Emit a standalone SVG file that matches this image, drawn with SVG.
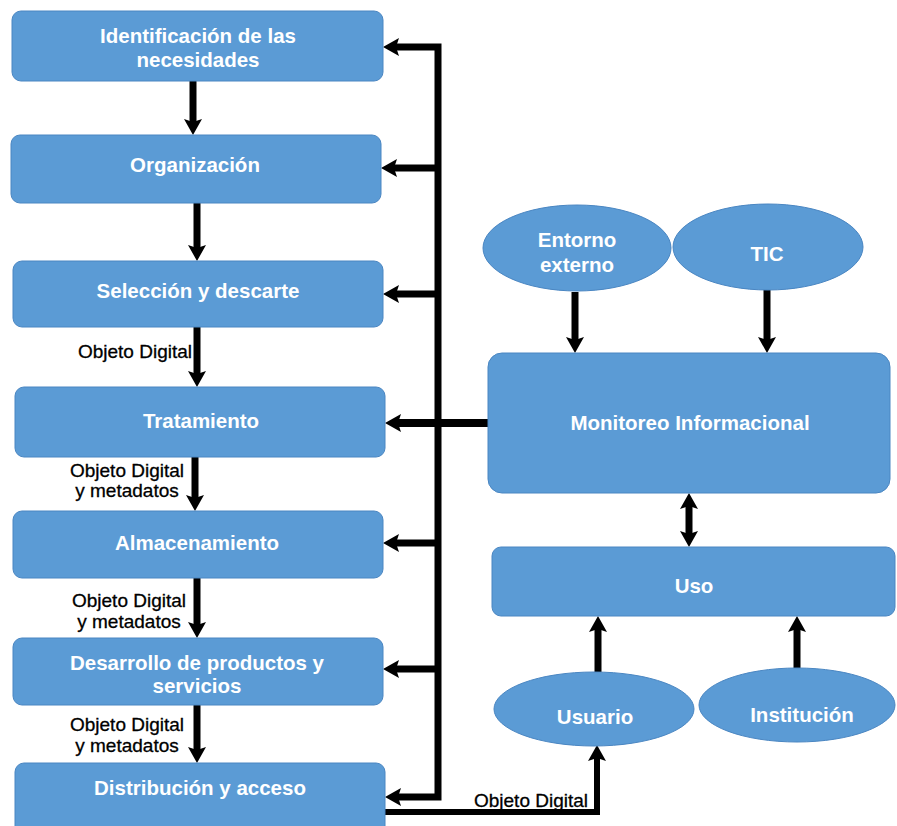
<svg xmlns="http://www.w3.org/2000/svg" width="897" height="826" viewBox="0 0 897 826">
<style>
.box{fill:#5B9BD5;stroke:#4A86C2;stroke-width:1}
.t{font-family:"Liberation Sans",Arial,sans-serif;font-weight:bold;font-size:20.5px;fill:#fff;text-anchor:middle}
.lbl{font-family:"Liberation Sans",Arial,sans-serif;font-size:19px;fill:#000;text-anchor:middle;stroke:#000;stroke-width:0.3}
.c{fill:none;stroke:#000;stroke-width:7}
</style>
<defs>
<marker id="ah" markerUnits="userSpaceOnUse" markerWidth="16" markerHeight="18" viewBox="0 0 16 18" refX="6" refY="9" orient="auto-start-reverse">
<path d="M0,0 L16,9 L0,18 L3,9 z" fill="#000"/>
</marker>
</defs>
<rect width="897" height="826" fill="#fff"/>
<g id="connectors">
<line class="c" x1="193" y1="81" x2="193" y2="125" marker-end="url(#ah)"/>
<line class="c" x1="197" y1="203" x2="197" y2="251" marker-end="url(#ah)"/>
<line class="c" x1="197" y1="327" x2="197" y2="377" marker-end="url(#ah)"/>
<line class="c" x1="195" y1="457" x2="195" y2="501" marker-end="url(#ah)"/>
<line class="c" x1="197" y1="578" x2="197" y2="628" marker-end="url(#ah)"/>
<line class="c" x1="197" y1="705" x2="197" y2="753" marker-end="url(#ah)"/>
<path class="c" d="M393,47 H438 V797 H395" marker-start="url(#ah)" marker-end="url(#ah)"/>
<line class="c" x1="438" y1="168" x2="391" y2="168" marker-end="url(#ah)"/>
<line class="c" x1="438" y1="294" x2="393" y2="294" marker-end="url(#ah)"/>
<line class="c" x1="488" y1="423" x2="395" y2="423" style="stroke-width:8" marker-end="url(#ah)"/>
<line class="c" x1="438" y1="543" x2="393" y2="543" marker-end="url(#ah)"/>
<line class="c" x1="438" y1="669" x2="393" y2="669" marker-end="url(#ah)"/>
<path class="c" d="M383,812 H597 V755" style="stroke-width:6" marker-end="url(#ah)"/>
<line class="c" x1="575" y1="292" x2="575" y2="343" marker-end="url(#ah)"/>
<line class="c" x1="767" y1="290" x2="767" y2="343" marker-end="url(#ah)"/>
<line class="c" x1="689" y1="503" x2="689" y2="537" marker-start="url(#ah)" marker-end="url(#ah)"/>
<line class="c" x1="598" y1="672" x2="598" y2="626" marker-end="url(#ah)"/>
<line class="c" x1="797" y1="668" x2="797" y2="626" marker-end="url(#ah)"/>
<text class="lbl" style="text-anchor:end" x="192" y="358">Objeto Digital</text>
<text class="lbl" x="127" y="477">Objeto Digital</text>
<text class="lbl" x="127" y="497">y metadatos</text>
<text class="lbl" x="129" y="607">Objeto Digital</text>
<text class="lbl" x="129" y="628">y metadatos</text>
<text class="lbl" x="127" y="731">Objeto Digital</text>
<text class="lbl" x="127" y="752">y metadatos</text>
<text class="lbl" x="531" y="807">Objeto Digital</text>
</g>
<g id="identificacion">
<rect class="box" x="12" y="11" width="371" height="70" rx="9"/>
<text class="t" x="198" y="43">Identificación de las</text>
<text class="t" x="198" y="67">necesidades</text>
</g>
<g id="organizacion">
<rect class="box" x="11" y="135" width="370" height="68" rx="9"/>
<text class="t" x="195" y="172">Organización</text>
</g>
<g id="seleccion">
<rect class="box" x="13" y="261" width="370" height="66" rx="9"/>
<text class="t" x="198" y="298">Selección y descarte</text>
</g>
<g id="tratamiento">
<rect class="box" x="15" y="387" width="370" height="70" rx="9"/>
<text class="t" x="201" y="428">Tratamiento</text>
</g>
<g id="almacenamiento">
<rect class="box" x="13" y="511" width="370" height="67" rx="9"/>
<text class="t" x="197" y="550">Almacenamiento</text>
</g>
<g id="desarrollo">
<rect class="box" x="13" y="638" width="370" height="67" rx="9"/>
<text class="t" x="197" y="670">Desarrollo de productos y</text>
<text class="t" x="197" y="693">servicios</text>
</g>
<g id="distribucion">
<rect class="box" x="15" y="763" width="370" height="75" rx="9"/>
<text class="t" x="200" y="795">Distribución y acceso</text>
</g>
<g id="entorno">
<ellipse class="box" cx="577" cy="248" rx="94" ry="43"/>
<text class="t" x="577" y="247">Entorno</text>
<text class="t" x="577" y="272">externo</text>
</g>
<g id="tic">
<ellipse class="box" cx="768" cy="247" rx="95" ry="43"/>
<text class="t" x="767" y="261">TIC</text>
</g>
<g id="monitoreo">
<rect class="box" x="488" y="353" width="402" height="140" rx="14"/>
<text class="t" x="690" y="430">Monitoreo Informacional</text>
</g>
<g id="uso">
<rect class="box" x="492" y="547" width="403" height="69" rx="9"/>
<text class="t" x="694" y="593">Uso</text>
</g>
<g id="usuario">
<ellipse class="box" cx="594" cy="709" rx="100" ry="37"/>
<text class="t" x="595" y="724">Usuario</text>
</g>
<g id="institucion">
<ellipse class="box" cx="797" cy="705" rx="98" ry="37"/>
<text class="t" x="802" y="722">Institución</text>
</g>
</svg>
